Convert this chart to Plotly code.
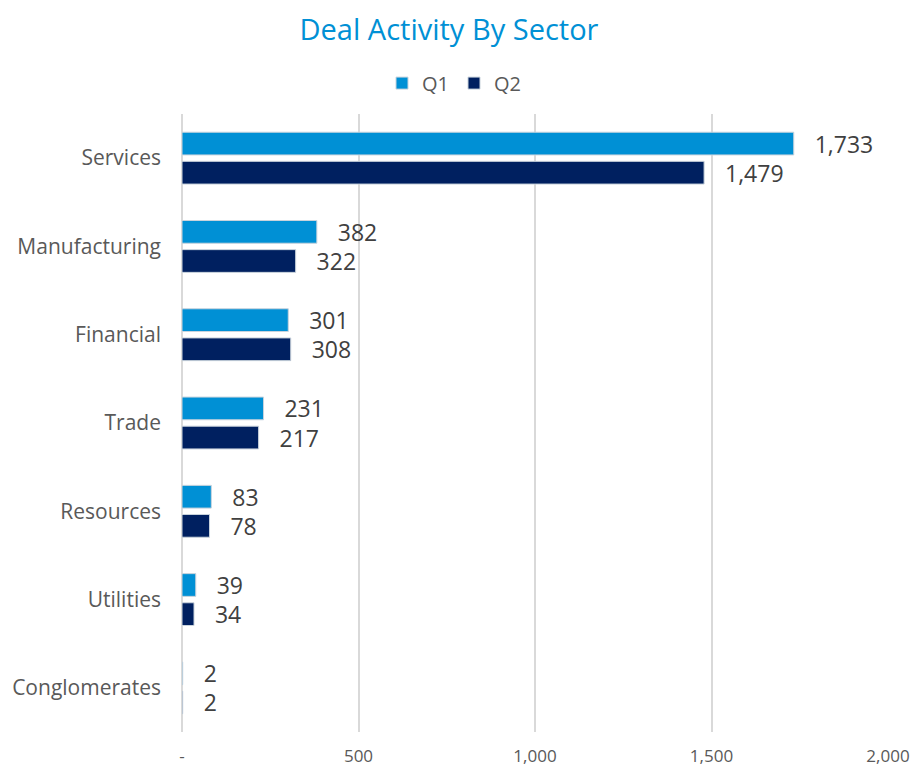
import plotly.graph_objects as go

sectors = ["Services", "Manufacturing", "Financial", "Trade", "Resources", "Utilities", "Conglomerates"]
q1 = [1733, 382, 301, 231, 83, 39, 2]
q2 = [1479, 322, 308, 217, 78, 34, 2]
tick_vals = [0, 500, 1000, 1500, 2000]
tick_text = ["-", "500", "1,000", "1,500", "2,000"]

# The page body adds an 8px margin, so the figure is drawn 8px smaller and
# all positions are shifted by -8px to land where the reference has them.
FONT = "Open Sans"
LBL = "\u00a0\u00a0\u00a0%{x:,}"
W, H = 911, 767
fig = go.Figure()
fig.add_trace(go.Bar(y=sectors, x=q1, name="Q1", orientation="h",
                     marker=dict(color="#0090D5", line=dict(color="#C9D3DC", width=1)),
                     text=q1, texttemplate=LBL, textposition="outside", constraintext="none",
                     textfont=dict(size=23, color="#404040", family=FONT), cliponaxis=False))
fig.add_trace(go.Bar(y=sectors, x=q2, name="Q2", orientation="h",
                     marker=dict(color="#002060", line=dict(color="#C9D3DC", width=1)),
                     text=q2, texttemplate=LBL, textposition="outside", constraintext="none",
                     textfont=dict(size=23, color="#404040", family=FONT), cliponaxis=False))

fig.update_layout(
    width=W, height=H,
    paper_bgcolor="white", plot_bgcolor="white",
    margin=dict(l=174, r=31, t=106, b=43, autoexpand=False),
    barmode="group", bargap=0.34, bargroupgap=0.22,
    font=dict(family=FONT, color="#595959", size=17),
    title=dict(text="Deal Activity By Sector", x=441 / W, xanchor="center",
               xref="container", yref="container", y=1 - 22 / H, yanchor="middle",
               automargin=False,
               font=dict(size=29, color="#0090D5", family=FONT)),
    legend=dict(orientation="h", xref="container", x=446 / W, xanchor="center",
                y=1.05, yanchor="middle",
                font=dict(size=20, color="#595959"), traceorder="normal"),
    xaxis=dict(range=[0, 2000], tickvals=tick_vals, ticktext=tick_text, automargin=False,
               showgrid=True, gridcolor="#D9D9D9", gridwidth=2,
               zeroline=True, zerolinecolor="#D9D9D9", zerolinewidth=2,
               showline=False, ticks="", ticklabelstandoff=12,
               tickfont=dict(size=17, color="#595959")),
    yaxis=dict(autorange="reversed", showgrid=False, showline=False, ticks="", automargin=False,
               ticklabelstandoff=20, tickfont=dict(size=21, color="#595959")),
)
fig.write_html("out.html")
